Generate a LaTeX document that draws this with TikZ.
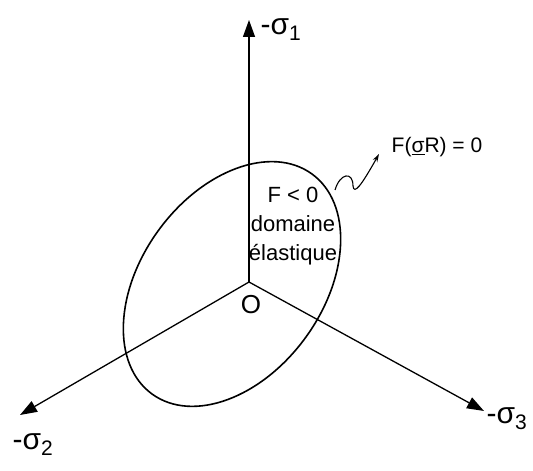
\documentclass[tikz,border=0pt]{standalone}
\usepackage{fontspec}
\setmainfont{Liberation Sans}
\usetikzlibrary{arrows.meta}

\tikzset{
  axis/.style={line width=1.3pt,-{Triangle[length=17pt,width=12pt]}},
  axislabel/.style={font=\fontsize{30}{30}\selectfont,inner sep=0pt},
  regiontext/.style={font=\fontsize{22}{29}\selectfont,align=center,inner sep=0pt}
}

\begin{document}
\begin{tikzpicture}[x=1pt,y=1pt]
\useasboundingbox (0,0) rectangle (533,471);

\coordinate (O) at (249,189);
\coordinate (tip1) at (249,451);
\coordinate (tip2) at (20,56);
\coordinate (tip3) at (484,60);

\draw[axis] (O) -- (tip1);
\draw[axis] (O) -- (tip2);
\draw[axis] (O) -- (tip3);

\node[axislabel] (s1) at (281,441) {-σ\textsubscript{1}};
\node[axislabel] (s2) at (33,26) {-σ\textsubscript{2}};
\node[axislabel] (s3) at (507,52) {-σ\textsubscript{3}};
\node[font=\fontsize{26}{26}\selectfont,inner sep=0pt] (orig) at (251,166) {O};

\draw[line width=1.6pt] (232,187) ellipse [x radius=136, y radius=91, rotate=54];

\node[regiontext] (dom) at (293,245) {F < 0\\domaine\\élastique};

\coordinate (surf) at (335,281);
\node[font=\fontsize{21}{21}\selectfont,inner sep=0pt] (Feq) at (437,324) {F(\underline{σ}R) = 0};
\coordinate (wtip) at (379,317);
\draw[line width=1.1pt,-{Stealth[length=8pt,width=5pt]}] (surf) .. controls (340,298) and (353,300) .. (353,285)
  .. controls (354,276) and (361,285) .. (wtip);

\end{tikzpicture}
\end{document}
